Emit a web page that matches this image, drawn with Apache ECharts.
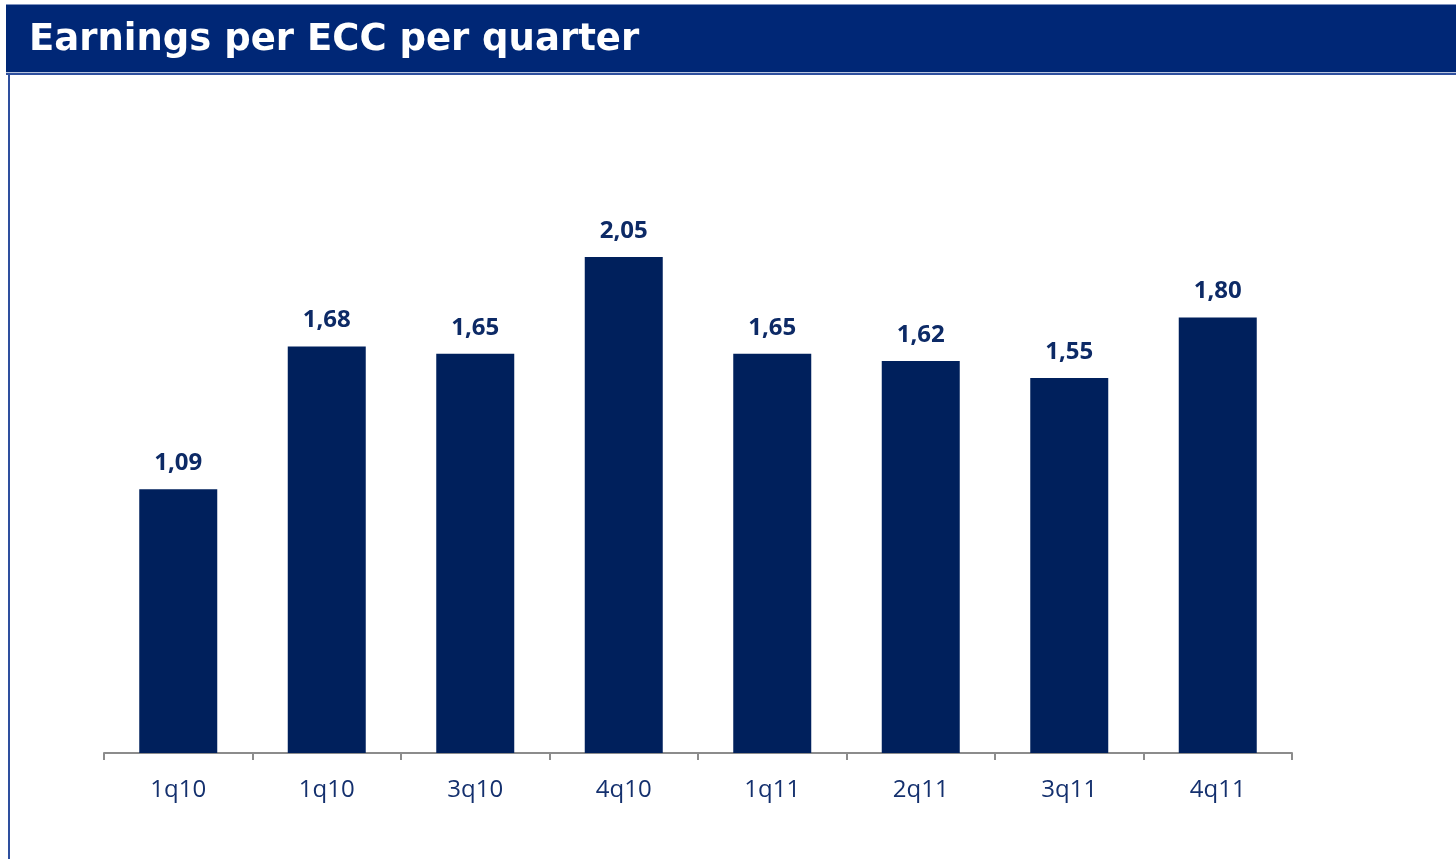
<!DOCTYPE html>
<html>
<head>
<meta charset="utf-8">
<script src="https://cdn.jsdelivr.net/npm/echarts@6/dist/echarts.min.js"></script>
<style>
html,body{margin:0;padding:0;background:#fff;}
#chart{width:1456px;height:859px;}
</style>
</head>
<body>
<div id="chart"></div>
<script>
const titleText = 'Earnings per ECC per quarter';
const categories = ['1q10','1q10','3q10','4q10','1q11','2q11','3q11','4q11'];
const values = [1.09, 1.68, 1.65, 2.05, 1.65, 1.62, 1.55, 1.80];

const chart = echarts.init(document.getElementById('chart'));
chart.setOption({
  animation: false,
  backgroundColor: '#ffffff',
  graphic: [
    { type: 'rect', shape: { x: 6, y: 4, width: 1450, height: 2 }, style: { fill: '#7f93c0' } },
    { type: 'rect', shape: { x: 6, y: 5, width: 1450, height: 67 }, style: { fill: '#002776' } },
    { type: 'rect', shape: { x: 6, y: 72, width: 1450, height: 1 }, style: { fill: '#b8c4de' } },
    { type: 'rect', shape: { x: 6, y: 73, width: 1450, height: 2 }, style: { fill: '#2e4f9e' } },
    { type: 'rect', shape: { x: 8, y: 73, width: 2, height: 786 }, style: { fill: '#2e4f9e' } },
    { type: 'text', left: 29, top: 22, style: { text: titleText, fill: '#ffffff', font: 'bold 37px "DejaVu Sans", Verdana, sans-serif' } }
  ],
  grid: { left: 104, right: 164, top: 148, bottom: 106 },
  xAxis: {
    type: 'category',
    data: categories,
    axisLine: { lineStyle: { color: '#8c8c8c', width: 2 } },
    axisTick: { show: true, length: 7, lineStyle: { color: '#8c8c8c', width: 2 } },
    axisLabel: { color: '#14306e', fontSize: 24, fontFamily: '"Open Sans", "Noto Sans", sans-serif', margin: 25 }
  },
  yAxis: {
    type: 'value', min: 0, max: 2.5, show: false,
    splitLine: { show: false }
  },
  series: [{
    type: 'bar',
    data: values,
    barWidth: 78,
    itemStyle: { color: '#00205c' },
    label: {
      show: true, position: 'top', distance: 14,
      color: '#0d2a66', fontSize: 24, fontWeight: 'bold',
      fontFamily: '"Open Sans", "Noto Sans", sans-serif',
      formatter: p => p.value.toFixed(2).replace('.', ',')
    }
  }]
});
</script>
</body>
</html>
